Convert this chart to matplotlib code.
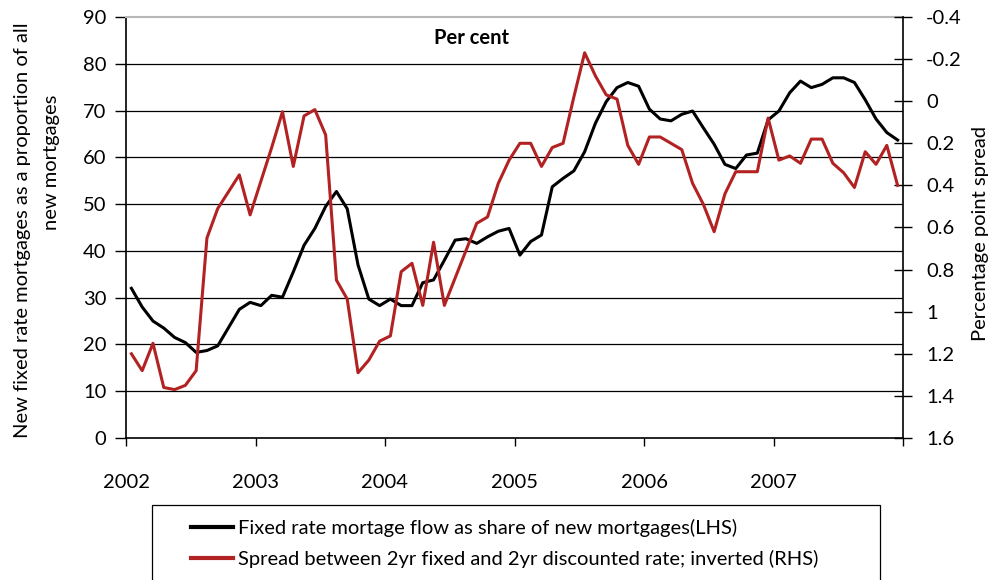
import matplotlib
matplotlib.use("Agg")
import matplotlib.pyplot as plt
from matplotlib.patches import Rectangle
import numpy as np

# ---- data (monthly, Jan 2002 - Dec 2007) ----
fixed_share = [32, 28, 25, 23.5, 21.5, 20.4, 18.3, 18.7, 19.7, 23.6, 27.5, 29,
               28.3, 30.5, 30.1, 35.5, 41.2, 44.8, 49.5, 52.7, 49, 37, 29.7, 28.3,
               29.7, 28.3, 28.3, 33.2, 33.8, 38, 42.3, 42.6, 41.6, 43, 44.2, 44.8,
               39.1, 42, 43.4, 53.7, 55.5, 57.1, 61.2, 67.3, 71.9, 74.9, 76, 75.2,
               70.3, 68.2, 67.8, 69.2, 69.9, 66.3, 62.8, 58.5, 57.6, 60.5, 60.9, 68,
               69.9, 73.8, 76.3, 74.9, 75.6, 77, 77, 76, 72.3, 68.2, 65.3, 63.7]
spread = [1.2, 1.28, 1.15, 1.36, 1.37, 1.35, 1.28, 0.65, 0.51, 0.43, 0.35, 0.54,
          0.38, 0.22, 0.05, 0.31, 0.07, 0.04, 0.16, 0.85, 0.94, 1.29, 1.23, 1.14,
          1.115, 0.81, 0.77, 0.97, 0.67, 0.97, 0.84, 0.71, 0.58, 0.55, 0.39, 0.28,
          0.2, 0.2, 0.31, 0.22, 0.2, -0.02, -0.23, -0.12, -0.03, -0.01, 0.21, 0.3,
          0.17, 0.17, 0.2, 0.23, 0.39, 0.49, 0.62, 0.44, 0.335, 0.335, 0.335, 0.08,
          0.28, 0.26, 0.295, 0.18, 0.18, 0.295, 0.34, 0.41, 0.24, 0.3, 0.21, 0.4]
year_labels = ["2002", "2003", "2004", "2005", "2006", "2007"]
left_ticks = list(range(0, 100, 10))
right_ticks = [-0.4, -0.2, 0, 0.2, 0.4, 0.6, 0.8, 1.0, 1.2, 1.4, 1.6]
right_tick_labels = ["-0.4", "-0.2", "0", "0.2", "0.4", "0.6", "0.8", "1", "1.2", "1.4", "1.6"]

label_fixed = "Fixed rate mortage flow as share of new mortgages(LHS)"
label_spread = "Spread between 2yr fixed and 2yr discounted rate; inverted (RHS)"

plt.rcParams['font.family'] = ['Lato', 'DejaVu Sans']
FS = 14.5
RED = "#B22222"

W, H = 1005, 580
fig = plt.figure(figsize=(W / 100, H / 100), dpi=100)
ax_l, ax_r, ax_b, ax_t = 126, 903, 438, 17
ax = fig.add_axes([ax_l / W, 1 - ax_b / H, (ax_r - ax_l) / W, (ax_b - ax_t) / H])
ax2 = ax.twinx()

x = np.arange(len(fixed_share)) + 0.5
l1, = ax.plot(x, fixed_share, color="black", lw=2.2, zorder=3)
l2, = ax2.plot(x, spread, color=RED, lw=2.2, zorder=3)

ax.set_xlim(0, 72)
ax.set_ylim(0, 90)
ax2.set_ylim(1.6, -0.4)

ax.set_yticks(left_ticks)
ax.set_yticklabels([str(t) for t in left_ticks], fontsize=FS)
for g in range(10, 90, 10):
    ax.axhline(g, color="black", lw=0.9, zorder=1)

ax.set_xticks([0, 12, 24, 36, 48, 60, 72])
ax.set_xticklabels(year_labels + [""], fontsize=FS)
ax.tick_params(axis="x", direction="out", length=6, width=1, pad=20)
ax.tick_params(axis="y", direction="out", length=8, width=1, pad=6)

ax2.set_yticks(right_ticks)
ax2.set_yticklabels(right_tick_labels, fontsize=FS)
ax2.tick_params(axis="y", direction="inout", length=13, width=1, pad=10)

ax.spines["top"].set_color("#b8b8b8")
ax.spines["top"].set_linewidth(1.5)
for s in ("left", "bottom"):
    ax.spines[s].set_linewidth(1.2)
ax.spines["right"].set_visible(False)
for s in ("left", "bottom", "top"):
    ax2.spines[s].set_visible(False)
ax2.spines["right"].set_linewidth(1.2)

ax.text((472 - ax_l) / (ax_r - ax_l), (ax_b - 38) / (ax_b - ax_t), "Per cent",
        transform=ax.transAxes, ha="center", va="center", fontsize=FS, fontweight="bold")

# axis titles
fig.text(23 / W, 1 - 230 / H, "New fixed rate mortgages as a proportion of all",
         rotation=90, ha="center", va="center", fontsize=FS)
fig.text(52 / W, 1 - 162 / H, "new mortgages",
         rotation=90, ha="center", va="center", fontsize=FS)
fig.text(980 / W, 1 - 233 / H, "Percentage point spread",
         rotation=90, ha="center", va="center", fontsize=FS)

# legend box (extends past bottom edge)
fig.patches.append(Rectangle((152 / W, -0.05), (880 - 152) / W, 0.05 + (H - 505) / H,
                             transform=fig.transFigure, fill=False,
                             edgecolor="black", lw=0.9))
fig.legend([l1, l2], [label_fixed, label_spread], loc="upper left",
           bbox_to_anchor=(175 / W, 1 - 503 / H), frameon=False, fontsize=FS,
           handlelength=2.1, handletextpad=0.25, labelspacing=0.65,
           borderpad=0.3)
for lh in fig.legends[0].get_lines():
    lh.set_linewidth(3)

fig.savefig("out.png", dpi=100)
